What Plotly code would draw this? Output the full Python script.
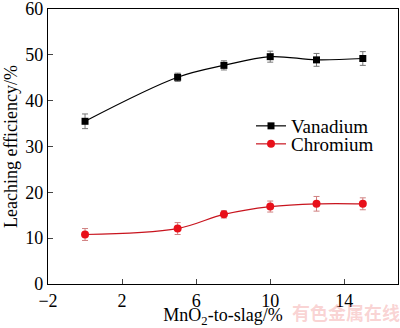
import plotly.graph_objects as go

x_vals = [0, 5, 7.5, 10, 12.5, 15]
vanadium = [35.5, 45.1, 47.7, 49.6, 48.9, 49.2]
vanadium_err = [1.6, 0.9, 1.0, 1.2, 1.4, 1.5]
chromium = [10.8, 12.1, 15.2, 16.9, 17.5, 17.5]
chromium_err = [1.3, 1.3, 0.8, 1.2, 1.6, 1.3]
x_ticks = [-2, 2, 6, 10, 14]
y_ticks = [0, 10, 20, 30, 40, 50, 60]

font = "Times New Roman"
fig = go.Figure()
fig.add_trace(go.Scatter(
    x=x_vals, y=vanadium, name="Vanadium", mode="lines+markers",
    line=dict(color="black", width=1.2, shape="spline", smoothing=1.0),
    marker=dict(symbol="square", size=7, color="black"),
    error_y=dict(type="data", array=vanadium_err, color="#777777", thickness=1, width=3),
    legend="legend",
))
fig.add_trace(go.Scatter(
    x=x_vals, y=chromium, name="Chromium", mode="lines+markers",
    line=dict(color="#c8141e", width=1.2, shape="spline", smoothing=1.0),
    marker=dict(symbol="circle", size=8, color="#e8101a"),
    error_y=dict(type="data", array=chromium_err, color="#d08080", thickness=1, width=3),
    legend="legend2",
))
plot_top, plot_bottom = 9, 284
ph = plot_bottom - plot_top
leg = dict(xanchor="left", yanchor="middle", bgcolor="rgba(0,0,0,0)",
           font=dict(size=19, family=font, color="black"), itemwidth=30)
fig.update_layout(
    width=400, height=328,
    margin=dict(l=48, r=2, t=plot_top, b=328 - plot_bottom, autoexpand=False),
    paper_bgcolor="white", plot_bgcolor="white",
    font=dict(family=font, size=18, color="black"),
    showlegend=True,
    legend=dict(leg, x=0.58, y=(plot_bottom - 126) / ph),
    legend2=dict(leg, x=0.58, y=(plot_bottom - 144) / ph),
    xaxis=dict(range=[-2, 16.9], tickvals=x_ticks, ticks="inside", ticklen=5,
               showline=True, linecolor="black", linewidth=1.2, mirror=True,
               showgrid=False, zeroline=False, ticklabeloverflow="allow",
               automargin=False,
               tickfont=dict(size=18, family=font),
               title=dict(text="MnO<sub>2</sub>-to-slag/%", standoff=11,
                          font=dict(size=18, family=font))),
    yaxis=dict(range=[0, 60], tickvals=y_ticks, ticks="inside", ticklen=5,
               showline=True, linecolor="black", linewidth=1.2, mirror=True,
               showgrid=False, zeroline=False, ticklabeloverflow="allow",
               automargin=False,
               tickfont=dict(size=18, family=font),
               title=dict(text="Leaching efficiency/%", standoff=2,
                          font=dict(size=18, family=font))),
)
fig.add_annotation(text="<b>有色金属在线</b>", xref="paper", yref="paper",
                   x=1.01, y=-0.1, xanchor="right", yanchor="middle",
                   showarrow=False,
                   font=dict(size=18, color="rgba(240,130,130,0.35)",
                             family="Noto Sans CJK SC"))
fig.write_html("out.html")
